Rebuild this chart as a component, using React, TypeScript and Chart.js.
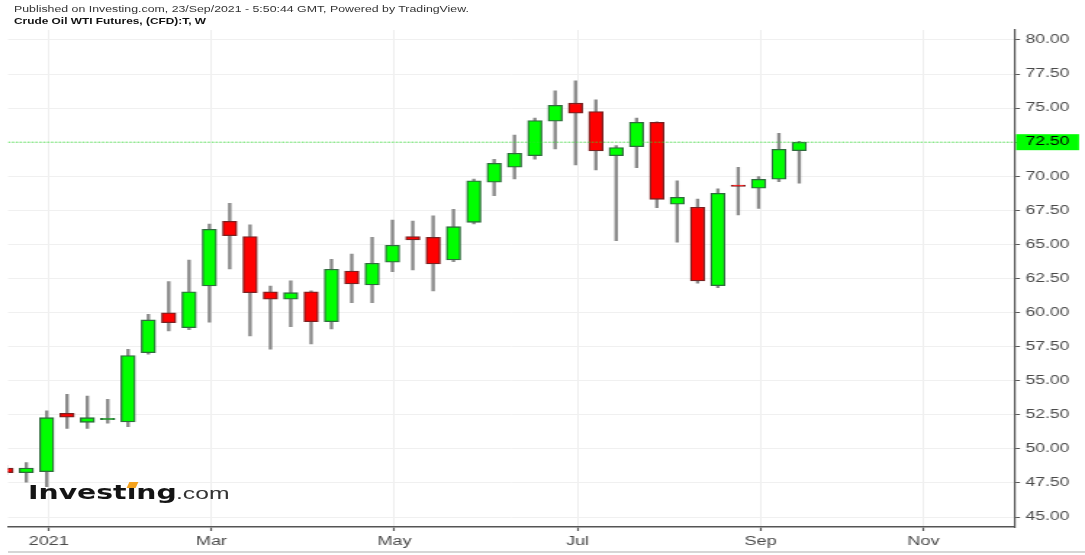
import React, { useEffect, useRef } from 'react';
import { Chart, registerables } from 'chart.js';

Chart.register(...registerables);

// Weekly candles (week index 0 = week of 20 Dec 2020)
const opens = [
  48.6, 48.25, 48.33, 52.61, 51.95, 52.14, 51.97, 57.06, 59.99, 58.89,
  61.95, 66.7, 65.57, 61.53, 60.98, 61.53, 59.33, 63.05, 62.03, 63.69,
  65.57, 65.52, 63.86, 66.62, 69.56, 70.66, 71.51, 74.04, 75.36, 74.74,
  71.51, 72.17, 73.96, 67.95, 67.73, 61.97, 69.36, 69.12, 69.78, 71.88,
];
const highs = [
  48.8, 48.99, 52.8, 54.0, 53.88, 53.64, 57.31, 59.88, 62.27, 63.86,
  66.5, 68.02, 66.43, 61.95, 62.32, 61.6, 63.91, 64.3, 65.52, 66.79,
  66.72, 67.09, 67.58, 69.8, 71.25, 73.03, 74.26, 76.26, 77.0, 75.6,
  72.25, 74.26, 74.0, 69.66, 68.33, 69.07, 70.66, 69.97, 73.15, 72.57,
];
const lows = [
  48.1, 47.55, 47.23, 51.51, 51.51, 51.88, 51.63, 56.95, 58.65, 58.75,
  59.29, 63.2, 58.28, 57.31, 58.97, 57.7, 58.8, 60.73, 60.73, 63.0,
  63.13, 61.58, 63.74, 66.5, 68.58, 69.8, 71.25, 72.0, 70.83, 70.46,
  65.28, 70.63, 67.7, 65.16, 62.15, 61.83, 67.16, 67.65, 69.6, 69.49,
];
const closes = [
  48.25, 48.6, 52.29, 52.32, 52.29, 52.24, 56.84, 59.46, 59.26, 61.53,
  66.11, 65.64, 61.46, 60.98, 61.46, 59.33, 63.18, 62.1, 63.62, 64.94,
  65.33, 63.57, 66.3, 69.66, 70.95, 71.69, 74.08, 75.21, 74.62, 71.86,
  72.1, 73.96, 68.31, 68.46, 62.32, 68.75, 69.26, 69.78, 71.98, 72.5,
];

const yTicks = [45, 47.5, 50, 52.5, 55, 57.5, 60, 62.5, 65, 67.5, 70, 72.5, 75, 77.5, 80];
const tickWeeks = [2, 10, 19, 28, 37, 45];
const tickLabels = ['2021', 'Mar', 'May', 'Jul', 'Sep', 'Nov'];
const currentPrice = closes[closes.length - 1];

const TITLE = 'Published on Investing.com, 23/Sep/2021 - 5:50:44 GMT, Powered by TradingView.';
const SUBTITLE = 'Crude Oil WTI Futures, (CFD):T, W';

const STRETCH = 1.4505;
const CW = 748;
const CH = 555;
const X_MIN = 0.098;
const X_MAX = 49.61;
const Y_MIN = 44.27;
const Y_MAX = 80.73;
const FONT = "'Liberation Sans', Arial, sans-serif";

export default function App() {
  const ref = useRef<HTMLCanvasElement>(null);

  useEffect(() => {
    if (!ref.current) return;
    const idx = opens.map((_, i) => i);
    const up = (i: number) => closes[i] >= opens[i];

    const priceBox = {
      id: 'priceBox',
      afterDraw(chart: any) {
        const ys = chart.scales.y;
        const ctx = chart.ctx;
        const py = ys.getPixelForValue(currentPrice);
        const left = ys.left + 0.7;
        const right = 1079 / STRETCH;
        ctx.save();
        ctx.fillStyle = '#00ff00';
        ctx.fillRect(left, py - 8, right - left, 16);
        ctx.fillStyle = '#000000';
        ctx.font = `12px ${FONT}`;
        ctx.textBaseline = 'middle';
        ctx.textAlign = 'left';
        ctx.fillText(currentPrice.toFixed(2), ys.left + 3.4 + 3.9, py);
        ctx.restore();
      },
    };

    const chart = new Chart(ref.current, {
      type: 'bar',
      data: {
        datasets: [
          {
            type: 'line',
            data: [
              { x: X_MIN, y: currentPrice },
              { x: X_MAX, y: currentPrice },
            ],
            borderColor: 'rgba(40,230,40,0.75)',
            borderWidth: 1,
            borderDash: [1.5, 1.2],
            pointRadius: 0,
            clip: 0,
            order: 0,
          } as any,
          {
            data: idx.map((i) => ({ x: i, y: [opens[i], closes[i]] })),
            backgroundColor: idx.map((i) => (up(i) ? '#00ff00' : '#ff0000')),
            borderColor: idx.map((i) => (up(i) ? '#2f6b3d' : '#7a2020')),
            borderWidth: 1.3,
            borderSkipped: false,
            barThickness: 9.8,
            grouped: false,
            clip: 0,
            order: 1,
          } as any,
          {
            data: idx.map((i) => ({ x: i, y: [lows[i], highs[i]] })),
            backgroundColor: '#8a8a8a',
            borderWidth: 0,
            barThickness: 1.7,
            grouped: false,
            clip: 0,
            order: 2,
          } as any,
        ],
      },
      plugins: [priceBox],
      options: {
        responsive: false,
        animation: false,
        devicePixelRatio: 1,
        layout: { padding: { left: 8 / STRETCH, top: 30, right: 0, bottom: 0 } },
        plugins: {
          legend: { display: false },
          tooltip: { enabled: false },
          title: { display: false },
        },
        scales: {
          x: {
            type: 'linear',
            min: X_MIN,
            max: X_MAX,
            offset: false,
            afterBuildTicks: (s: any) => {
              s.ticks = tickWeeks.map((w) => ({ value: w + 0.1 }));
            },
            afterFit: (s: any) => {
              s.height = 28;
            },
            grid: {
              offset: false,
              color: '#eeeeee',
              lineWidth: 1,
              drawTicks: true,
              tickLength: 4,
              tickColor: '#555555',
              tickWidth: 1.2,
            },
            border: { color: '#555555', width: 1.6 },
            ticks: {
              autoSkip: false,
              maxRotation: 0,
              padding: 3,
              color: '#4a4a4a',
              font: { family: FONT, size: 12.5 },
              callback: (_v: any, i: number) => tickLabels[i],
            },
          },
          y: {
            type: 'linear',
            position: 'right',
            min: Y_MIN,
            max: Y_MAX,
            afterBuildTicks: (s: any) => {
              s.ticks = yTicks.map((v) => ({ value: v }));
            },
            afterFit: (s: any) => {
              s.width = CW - 1015 / STRETCH;
            },
            grid: {
              color: '#f0f0f0',
              lineWidth: 1,
              tickLength: 3.4,
              tickColor: '#555555',
              tickWidth: 1,
            },
            border: { color: '#555555', width: 1.2 },
            ticks: {
              padding: 3.9,
              color: '#4a4a4a',
              font: { family: FONT, size: 12 },
              callback: (v: any) => Number(v).toFixed(2),
            },
          },
        },
      } as any,
    });
    return () => chart.destroy();
  }, []);

  const stretch = {
    transform: `scaleX(${STRETCH})`,
    transformOrigin: '0 0',
    whiteSpace: 'nowrap' as const,
    position: 'absolute' as const,
  };

  return (
    <div
      style={{
        position: 'absolute',
        left: 0,
        top: 0,
        width: 1085,
        height: 555,
        overflow: 'hidden',
        background: '#ffffff',
      }}
    >
      <canvas
        ref={ref}
        width={CW}
        height={CH}
        style={{ width: '1085px', height: '555px', display: 'block', position: 'absolute', left: 0, top: 0 }}
      />
      <div
        style={{
          ...stretch,
          left: 14,
          top: 4.5,
          fontFamily: FONT,
          fontSize: 8.5,
          lineHeight: '8.5px',
          color: '#333333',
        }}
      >
        {TITLE}
      </div>
      <div
        style={{
          ...stretch,
          left: 14,
          top: 18.1,
          fontFamily: FONT,
          fontSize: 8.2,
          lineHeight: '8.2px',
          fontWeight: 'bold',
          color: '#111111',
        }}
      >
        {SUBTITLE}
      </div>
      <div
        style={{
          ...stretch,
          left: 27.5,
          top: 482.8,
          fontFamily: "'DejaVu Sans', sans-serif",
          fontWeight: 'bold',
          fontSize: 19.5,
          lineHeight: '19.5px',
          color: '#141414',
        }}
      >
        Investing
      </div>
      <div
        style={{
          position: 'absolute',
          left: 128,
          top: 481.5,
          width: 9,
          height: 6,
          background: '#f5a21b',
          transform: 'skewX(-25deg)',
        }}
      />
      <div
        style={{
          ...stretch,
          left: 175.5,
          top: 484.9,
          fontFamily: FONT,
          fontSize: 17,
          lineHeight: '17px',
          color: '#333333',
        }}
      >
        .com
      </div>
      <div
        style={{
          position: 'absolute',
          left: 8,
          top: 551,
          width: 1077,
          height: 2,
          background: '#d6d6d6',
        }}
      />
    </div>
  );
}
